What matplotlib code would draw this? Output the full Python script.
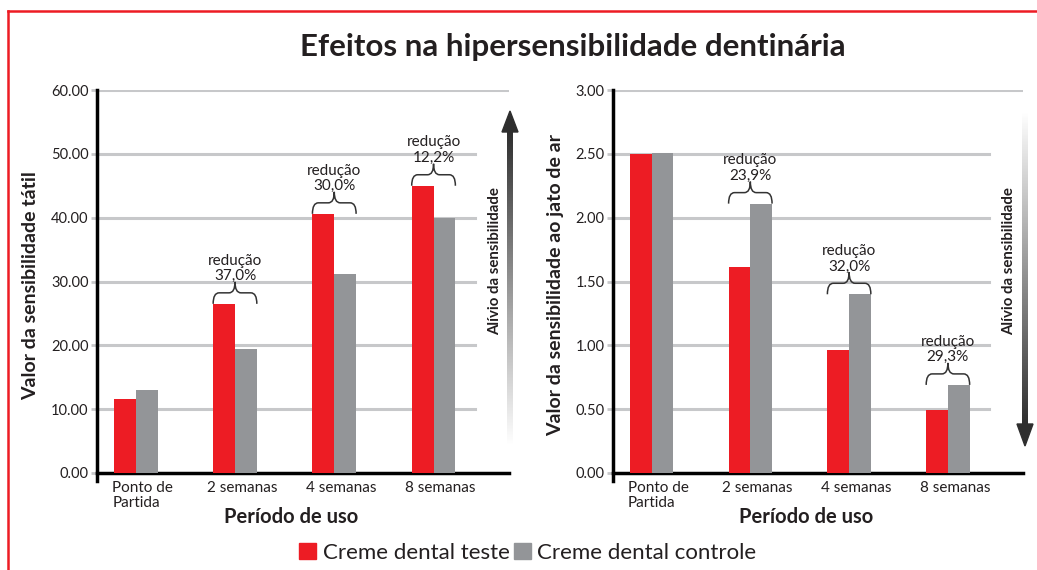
import numpy as np
import matplotlib
matplotlib.use('Agg')
import matplotlib.pyplot as plt
from matplotlib.path import Path
from matplotlib.patches import PathPatch, Patch, Polygon
from matplotlib.colors import LinearSegmentedColormap
from matplotlib.lines import Line2D
import matplotlib.transforms as mtransforms

plt.rcParams['font.family'] = ['Lato', 'DejaVu Sans']

categories = ['Ponto de\nPartida', '2 semanas', '4 semanas', '8 semanas']
teste_tatil = [11.6, 26.5, 40.6, 45.0]
controle_tatil = [13.0, 19.4, 31.2, 40.0]
teste_ar = [2.50, 1.61, 0.96, 0.49]
controle_ar = [2.51, 2.11, 1.40, 0.69]
reducao_tatil = ['', '37,0%', '30,0%', '12,2%']
reducao_ar = ['', '23,9%', '32,0%', '29,3%']

RED = '#ED1C24'
GRAY = '#939598'
GRID = '#C7C8CA'
INK = '#231F20'
W, H = 1037, 570

fig = plt.figure(figsize=(W / 100, H / 100), dpi=100)


def brace(ax, x0, x1, y0, h, r):
    xm = (x0 + x1) / 2
    verts = [(x0, y0), (x0, y0 + h), (x0 + r, y0 + h),
             (xm - r, y0 + h), (xm, y0 + h), (xm, y0 + 2 * h),
             (xm, y0 + h), (xm + r, y0 + h),
             (x1 - r, y0 + h), (x1, y0 + h), (x1, y0)]
    codes = [Path.MOVETO, Path.CURVE3, Path.CURVE3,
             Path.LINETO, Path.CURVE3, Path.CURVE3,
             Path.CURVE3, Path.CURVE3,
             Path.LINETO, Path.CURVE3, Path.CURVE3]
    ax.add_patch(PathPatch(Path(verts, codes), fill=False, lw=1.1,
                           edgecolor='#333333', zorder=4, clip_on=False))
    return xm, y0 + 2 * h


def panel(rect, teste, controle, reducao, ymax, step, ylabel, ylab_x):
    ax = fig.add_axes(rect)
    x = np.arange(len(categories))
    w = 0.22
    ax.bar(x - w / 2, teste, w, color=RED, zorder=3)
    ax.bar(x + w / 2, controle, w, color=GRAY, zorder=3)
    ax.set_xlim(-0.39, 3.76)
    ax.set_ylim(0, ymax)
    ticks = np.arange(0, ymax + step / 2, step)
    ax.set_yticks(ticks)
    ax.set_yticklabels([f'{t:.2f}' for t in ticks], fontsize=10.5, color=INK)
    for t in ticks[1:]:
        ax.axhline(t, xmin=0, xmax=1.0 if t == ticks[-1] else 0.918,
                   color=GRID, lw=2.2, zorder=1)
    ax.tick_params(axis='y', length=4, width=2, color=GRID, pad=2)
    ax.tick_params(axis='x', length=0, pad=6)
    ax.set_xticks(x)
    ax.set_xticklabels(categories, fontsize=11, color=INK, linespacing=1.05)
    off = mtransforms.ScaledTranslation(0.07, 0, fig.dpi_scale_trans)
    for lab in ax.get_xticklabels():
        lab.set_multialignment('left')
        lab.set_transform(lab.get_transform() + off)
    for s in ['top', 'right']:
        ax.spines[s].set_visible(False)
    ax.spines['left'].set_linewidth(2.5)
    ax.spines['bottom'].set_linewidth(2.5)
    ax.spines['left'].set_bounds(-ymax * 0.02, ymax)
    ax.set_xlabel('Período de uso', fontsize=14.5, fontweight='bold', color=INK)
    ax.xaxis.set_label_coords(0.47, -0.088)
    ax.set_ylabel(ylabel, fontsize=14, fontweight='bold', color=INK)
    ax.yaxis.set_label_coords(ylab_x, 0.49)
    h = ymax * 11 / 383
    for i, txt in enumerate(reducao):
        if not txt:
            continue
        top = max(teste[i], controle[i])
        xm, yt = brace(ax, i - w, i + w, top, h, 0.06)
        ax.annotate('redução\n' + txt, (xm, yt), xytext=(0, -1),
                    textcoords='offset points', ha='center', va='bottom',
                    fontsize=11, color=INK, linespacing=1.15, zorder=5)
    return ax


panel([97 / W, 1 - 473 / H, 412 / W, 383 / H], teste_tatil, controle_tatil,
      reducao_tatil, 60, 10, 'Valor da sensibilidade tátil', -0.14)
panel([613 / W, 1 - 473 / H, 410 / W, 383 / H], teste_ar, controle_ar,
      reducao_ar, 3, 0.5, 'Valor da sensibilidade ao jato de ar', -0.12)

# overlay in pixel coordinates for arrows, frame and title
ov = fig.add_axes([0, 0, 1, 1], zorder=10)
ov.patch.set_alpha(0)

cmap = LinearSegmentedColormap.from_list('g', ['white', '#2e2e2e'])
grad = np.linspace(0, 1, 256).reshape(-1, 1)
# left arrow (up)
ov.imshow(grad[::-1], cmap=cmap, extent=(507, 513, 445, 130), aspect='auto')
ov.add_patch(Polygon([(502, 132), (518, 132), (510, 111)], color='#2e2e2e'))
# right arrow (down)
ov.imshow(grad, cmap=cmap, extent=(1022, 1028, 425, 112), aspect='auto')
ov.add_patch(Polygon([(1017, 424), (1033, 424), (1025, 446)], color='#2e2e2e'))
ov.set_xlim(0, W)
ov.set_ylim(H, 0)
ov.axis('off')

ov.text(495, 261, 'Alívio da sensibilidade', rotation=90, ha='center', va='center',
        fontsize=10.8, fontweight='bold', color=INK)
ov.text(1009, 261, 'Alívio da sensibilidade', rotation=90, ha='center', va='center',
        fontsize=10.8, fontweight='bold', color=INK)

ov.text(573, 47, 'Efeitos na hipersensibilidade dentinária', ha='center', va='center',
        fontsize=22.5, fontweight='bold', color=INK)

ov.add_line(Line2D([8, W], [11, 11], color=RED, lw=1.8))
ov.add_line(Line2D([8, 8], [11, H], color=RED, lw=1.8))

fig.legend(handles=[Patch(color=RED), Patch(color=GRAY)],
           labels=['Creme dental teste', 'Creme dental controle'],
           loc='center', bbox_to_anchor=(528 / W, 1 - 553 / H), ncol=2,
           frameon=False, fontsize=16, handlelength=0.75, handleheight=0.75,
           handletextpad=0.3, columnspacing=0.2, labelcolor=INK)

fig.savefig('out.png', dpi=100)
